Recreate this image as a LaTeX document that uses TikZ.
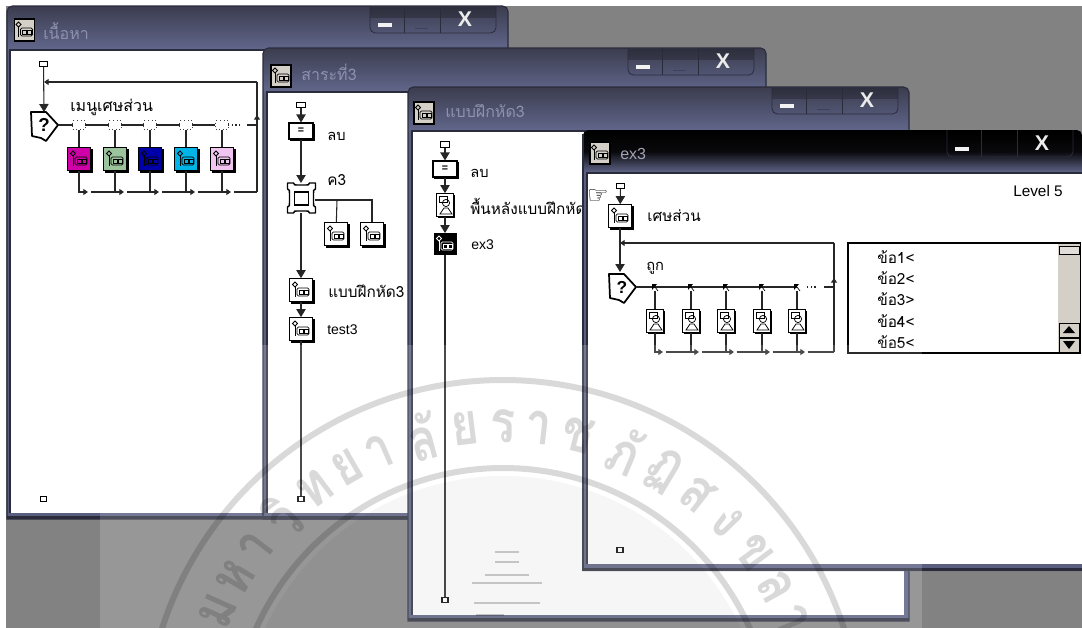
\documentclass[tikz,border=0pt]{standalone}
\usepackage{fontspec}
\setmainfont{Liberation Sans}
\newfontfamily\thaifont[Script=Thai]{Loma}
\newfontfamily\wmfont[Script=Thai,FakeStretch=0.8]{Loma}
\newfontfamily\dejavu{DejaVu Sans}
\usetikzlibrary{arrows.meta,shadows}
\definecolor{bggray}{HTML}{828282}
\definecolor{frameC}{HTML}{5A5F80}
\definecolor{frameD}{HTML}{2A2C3C}
\definecolor{titleT}{HTML}{3B3C4E}
\definecolor{titleB}{HTML}{62678C}
\definecolor{titleTxt}{HTML}{8F92AC}
\definecolor{magI}{HTML}{D000A8}
\definecolor{greenI}{HTML}{9CC49C}
\definecolor{navyI}{HTML}{0000AA}
\definecolor{cyanI}{HTML}{00B4E8}
\definecolor{pinkI}{HTML}{F2C4F0}
\definecolor{ctlC}{HTML}{D4D0C8}
\tikzset{
  x=0.75pt,y=-0.75pt,
  lbl/.style={anchor=west,inner sep=0,font=\thaifont\fontsize{11}{12}\selectfont,text=black},
  ttl/.style={anchor=west,inner sep=0,font=\thaifont\fontsize{12}{14}\selectfont,text=titleTxt},
  ln/.style={draw=black!85,line width=0.8pt},
  arrD/.style={ln,-{Triangle[length=6pt,width=7pt]}},
  arrS/.style={ln,-{Triangle[length=3.5pt,width=4.5pt]}},
  startbox/.style={draw=black,line width=0.8pt,fill=white,minimum width=6.5pt,minimum height=4pt,inner sep=0},
  endbox/.style={draw=black,line width=0.9pt,fill=white,minimum width=4.5pt,minimum height=3.5pt,inner sep=0},
  iconbox/.style={draw=black,line width=0.8pt,fill=white,inner sep=0,minimum width=#1,minimum height=#1,
     copy shadow={shadow xshift=1.4pt,shadow yshift=-1.4pt,fill=black,draw=black}},
  iconbox/.default=17pt,
  dispbox/.style={draw=black,line width=0.8pt,fill=white,inner sep=0,minimum width=12.5pt,minimum height=17pt,
     copy shadow={shadow xshift=1.2pt,shadow yshift=-1.2pt,fill=black,draw=black}},
  calcbox/.style={draw=black,line width=0.8pt,fill=white,inner sep=0,minimum width=18pt,minimum height=12pt,font=\bfseries\fontsize{8}{8}\selectfont,
     copy shadow={shadow xshift=1.2pt,shadow yshift=-1.2pt,fill=black,draw=black}},
  tinybox/.style={draw=black!75,dotted,line width=0.7pt,fill=white,minimum width=9.5pt,minimum height=6.5pt,inner sep=0},
  ghost/.style={inner sep=0,minimum width=#1,minimum height=22pt},
  ticon/.style={draw=black,line width=0.8pt,fill=ctlC,inner sep=0,minimum width=15pt,minimum height=16.5pt},
}
\newcommand{\mapglyph}[2]{\begin{scope}[shift={(#1)},draw=#2,line width=0.55pt]
  \draw (-6,-8)--(-3.5,-5.5)--(-6,-3)--(-8.5,-5.5)--cycle;
  \draw (-6,-3)--(-6,7);
  \draw[rounded corners=1pt] (-4,-2) rectangle (8,6);
  \draw (-2,0) rectangle (2,4); \draw (3,0) rectangle (7,4);
  \end{scope}}
\newcommand{\dispglyph}[1]{\begin{scope}[shift={(#1)},draw=black,line width=0.55pt]
  \draw (-6,-9) rectangle (2,-3);
  \draw (1,-2) circle (3.6);
  \draw (-5,9)--(-1,3)--(3,3)--(7,9)--cycle;
  \end{scope}}
\newcommand{\decpoly}[1]{\begin{scope}[shift={(#1)}]
  \draw[black,line width=1.3pt,line join=round] (-13,-13)--(2,-13)--(14,0)--(2,16)--(-3,13)--(-12,11)--cycle;
  \end{scope}}
\newcommand{\frameglyph}[1]{\begin{scope}[shift={(#1)}]
  \draw[black,line width=1.1pt,fill=white,line join=round] (-14,-15) -- (-8,-15) .. controls (-7,-13) .. (-5,-13) -- (5,-13) .. controls (7,-13) .. (8,-15) -- (14,-15)
     -- (14,-9) .. controls (12,-8) .. (12,-5) -- (12,5) .. controls (12,8) .. (14,9) -- (14,15)
     -- (8,15) .. controls (7,13) .. (5,13) -- (-5,13) .. controls (-7,13) .. (-8,15) -- (-14,15)
     -- (-14,9) .. controls (-12,8) .. (-12,5) -- (-12,-5) .. controls (-12,-8) .. (-14,-9) -- cycle;
  \draw[black,line width=1pt] (-7,-6) rectangle (7,7);
  \end{scope}}
\newcommand{\winbody}[8]{%
  \fill[frameC] (#1,#4) [rounded corners=4pt] -- (#1,#2) -- (#3,#2) [sharp corners] -- (#3,#4) -- cycle;
  \shade[top color=titleT,bottom color=titleB] (#1,#5) [rounded corners=4pt] -- (#1,#2) -- (#3,#2) [sharp corners] -- (#3,#5) -- cycle;
  \draw[frameD,line width=0.8pt] (#1,#4) [rounded corners=4pt] -- (#1,#2) -- (#3,#2) [sharp corners] -- (#3,#4) -- cycle;
  \fill[frameD] (#1,#4-3) rectangle (#3,#4);
  \fill[white] (#6,#5) rectangle (#7,#8);
  \draw[frameD,line width=0.8pt] (#6,#8) -- (#6,#5) -- (#7,#5);
}
\newcommand{\winbtns}[2]{\begin{scope}[shift={(#1,#2)}]
  \fill[black,opacity=.22] (0,1) rectangle (126,12);
  \draw[frameD,line width=0.6pt,rounded corners=4pt] (0,0)--(0,27)--(126,27)--(126,0);
  \draw[frameD,line width=0.6pt] (34,0)--(34,27) (70,0)--(70,27);
  \fill[white!95!black] (8,17) rectangle (22,21);
  \draw[black,opacity=.2,line width=0.5pt] (45,22)--(58,22);
  \node[text=white!92!black,inner sep=0,font=\bfseries\fontsize{16}{16}\selectfont] at (95,13) {X};
  \end{scope}}
\begin{document}
\begin{tikzpicture}
\useasboundingbox (0,0) rectangle (1082,628);
\fill[white] (0,0) rectangle (1082,628);
\fill[bggray] (6,6) rectangle (1082,628);

%% ---------- window 1
\winbody{7}{6}{508}{519}{50}{10}{264}{513}
\winbtns{370}{6}
\node[ticon] (t1) at (24.5,30) {}; \mapglyph{t1}{black}
\node[ttl] (t1t) at (43,31) {เนื้อหา};
\node[startbox] (s1) at (43.5,64) {};
\node[ghost=20pt] (d1) at (44,125) {\bfseries\fontsize{14}{14}\selectfont ?};
\decpoly{d1}
\coordinate (lp1) at (44,82);
\coordinate (rt1) at (257,82);
\coordinate (rb1) at (257,192);
\coordinate (ru1) at (257,125);
\draw[arrD] (s1) -- (44,112);
\draw[arrS] (rt1) -- (lp1);
\draw[ln] (rb1) -- (rt1);
\node[lbl,font=\thaifont\fontsize{12}{12}\selectfont] (l1) at (70,107) {เมนูเศษส่วน};
\draw[ln] (d1.east) -- (215,125);
\draw[ln,dotted] (228,125) -- (242,125);
\draw[arrS] (247,125) -- (ru1) -- (257,115);
\foreach \i/\x/\c in {1/79/magI,2/115/greenI,3/150/navyI,4/186/cyanI,5/222/pinkI}{
  \node[tinybox] (q\i) at (\x,125) {};
  \node[iconbox,fill=\c] (m\i) at (\x,159) {};
  \coordinate (b\i) at (\x,192);
  \draw[ln] (q\i) -- (m\i);
  \mapglyph{m\i}{black}
  \draw[arrS] (m\i.south) -- (b\i) -- ++(9,0);
}
\foreach \a/\b in {1/2,2/3,3/4,4/5}{ \draw[ln] ([xshift=9pt]b\a) -- (b\b); }
\draw[ln] ([xshift=9pt]b5) -- (rb1);
\node[endbox] (e1) at (43.5,499) {};

%% ---------- window 2
\winbody{263}{48}{766}{519}{92}{267}{766}{513}
\winbtns{628}{48}
\node[ticon] (t2) at (281,76) {}; \mapglyph{t2}{black}
\node[ttl] (t2t) at (301,72) {สาระที่3};
\node[startbox] (s2) at (301,105) {};
\node[calcbox] (c2) at (301,131) {=};
\node[lbl] (l2a) at (327,136) {ลบ};
\frameglyph{301.5,198}
\node[ghost=20pt] (f2) at (301.5,198) {};
\node[lbl,font=\thaifont\fontsize{11.5}{12}\selectfont] (l2b) at (327,180) {ค3};
\node[iconbox] (g1) at (336,234) {}; \mapglyph{g1}{black}
\node[iconbox] (g2) at (372,234) {}; \mapglyph{g2}{black}
\node[iconbox] (m2a) at (301,290) {}; \mapglyph{m2a}{black}
\node[lbl,font=\thaifont\fontsize{11.5}{12}\selectfont] (l2c) at (328,291) {แบบฝึกหัด3};
\node[iconbox] (m2b) at (301,329) {}; \mapglyph{m2b}{black}
\node[lbl,font=\fontsize{10.5}{12}\selectfont] (l2d) at (327,330) {test3};
\node[endbox] (e2) at (301,499) {};
\coordinate (j2) at (337,200);
\coordinate (k2) at (372,200);
\draw[arrD] (s2) -- (c2);
\draw[arrD] (c2) -- (301,183);
\draw[ln] (315,200) -- (k2) -- (g2);
\draw[ln] (j2) -- (g1);
\draw[arrD] (301,213) -- (m2a);
\draw[arrD] (m2a) -- (m2b);
\draw[ln] (m2b) -- (e2);

%% ---------- window 3
\winbody{408}{87}{909}{621}{131}{412}{904}{615}
\winbtns{772}{87}
\node[ticon] (t3) at (424,113) {}; \mapglyph{t3}{black}
\node[ttl] (t3t) at (445,111) {แบบฝึกหัด3};
\node[startbox] (s3) at (445,144.5) {};
\node[calcbox] (c3) at (445,169) {=};
\node[lbl] (l3a) at (470,173) {ลบ};
\node[dispbox] (v3) at (445,205) {}; \dispglyph{v3}
\node[lbl,font=\thaifont\fontsize{11.5}{12}\selectfont] (l3b) at (470,206) {พื้นหลังแบบฝึกหัด};
\node[draw=black,fill=black,inner sep=0,minimum width=16.5pt,minimum height=16pt] (m3) at (445,244) {}; \mapglyph{m3}{white}
\node[lbl,font=\fontsize{10.5}{12}\selectfont] (l3c) at (471,245) {ex3};
\node[endbox] (e3) at (445,600) {};
\draw[arrD] (s3) -- (c3);
\draw[arrD] (c3) -- (v3);
\draw[arrD] (v3) -- (m3);
\draw[ln] (m3) -- (e3);

%% ---------- window 4
\fill[frameC] (583,571) [rounded corners=4pt] -- (583,130) -- (1082,130) [sharp corners] -- (1082,571) -- cycle;
\shade[top color=black,bottom color=titleB,middle color=black!85!titleT] (583,173) [rounded corners=4pt] -- (583,130) -- (1082,130) [sharp corners] -- (1082,173) -- cycle;
\fill[frameD] (583,568) rectangle (1082,571);
\fill[white] (587,173) rectangle (1082,564);
\draw[frameD,line width=0.8pt] (587,564) -- (587,173) -- (1082,173);
\draw[frameD,line width=0.8pt] (583,571) -- (583,134);
\winbtns{947}{130}
\node[ticon] (t4) at (600,153) {}; \mapglyph{t4}{black}
\node[ttl,text=black!15!titleTxt!70!white,font=\fontsize{12}{14}\selectfont] (t4t) at (620,154) {ex3};
\node[inner sep=0,font=\dejavu\bfseries\fontsize{18}{18}\selectfont] (h4) at (598,197) {☞};
\node[startbox] (s4) at (620.5,186) {};
\node[iconbox] (m4) at (620,216) {}; \mapglyph{m4}{black}
\node[lbl,font=\thaifont\fontsize{11.5}{12}\selectfont] (l4a) at (647,216) {เศษส่วน};
\node[lbl,font=\fontsize{11.5}{12}\selectfont] (l4l) at (1013,191) {Level 5};
\node[ghost=20pt] (d4) at (622,287) {\bfseries\fontsize{13}{13}\selectfont ?};
\decpoly{d4}
\node[lbl] (l4b) at (646,268) {ถูก};
\coordinate (lp4) at (620,243);
\coordinate (rt4) at (834,243);
\coordinate (rb4) at (834,352);
\coordinate (ru4) at (834,287);
\draw[arrD] (s4) -- (m4);
\draw[arrD] (m4) -- (620,272);
\draw[arrS] (rt4) -- (lp4);
\draw[ln] (rb4) -- (rt4);
\draw[ln] (d4.east) -- (797,287);
\draw[ln,dotted] (807,287) -- (818,287);
\draw[arrS] (824,287) -- (ru4) -- (834,278);
\foreach \i/\x in {1/655,2/691,3/726,4/762,5/797}{
  \node[inner sep=0,minimum size=5pt] (k\i) at (\x,287) {};
  \fill[black] (\x-3,284) -- (\x+2,284) -- (\x-3,290) -- cycle;
  \draw[black,line width=0.5pt] (\x,287) -- (\x+3,291);
  \node[dispbox] (w\i) at (\x,321) {}; \dispglyph{w\i}
  \coordinate (z\i) at (\x,352);
  \draw[ln] (k\i) -- (w\i);
  \draw[arrS] (w\i.south) -- (z\i) -- ++(8,0);
}
\foreach \a/\b in {1/2,2/3,3/4,4/5}{ \draw[ln] ([xshift=8pt]z\a) -- (z\b); }
\draw[ln] ([xshift=8pt]z5) -- (rb4);
\node[endbox] (e4) at (620,550) {};
\draw[black,line width=0.9pt,fill=white] (848,353) -- (848,243) -- (1080,243) -- (1080,353) -- cycle;
\foreach \i/\y/\t in {1/257/<,2/278/<,3/299/>,4/321/<,5/342/<}{
  \node[lbl,font=\thaifont\fontsize{11.5}{12}\selectfont] (r\i) at (877,\y) {ข้อ\i\t};
}
\fill[ctlC] (1058,244) rectangle (1080,352);
\draw[black,line width=0.7pt,fill=ctlC!70!white] (1059,246) rectangle (1079,254);
\draw[black,line width=0.7pt,fill=ctlC] (1059,323) rectangle (1079,337);
\draw[black,line width=0.7pt,fill=ctlC] (1059,338) rectangle (1079,352);
\fill[black] (1069,326) -- (1075,333) -- (1063,333) -- cycle;
\fill[black] (1063,341) -- (1075,341) -- (1069,349) -- cycle;

%% ---------- watermark
\begin{scope}
\clip (0,0) rectangle (1082,628);
\fill[white,opacity=.17] (100,345) rectangle (922,628);
\fill[black,opacity=.035] (503,738) circle (262);
\draw[black,opacity=.15,line width=4.5pt] (503,738) circle (358);
\draw[black,opacity=.15,line width=4.5pt] (503,738) circle (270);
\foreach \a/\t in {156/ม,149/ห,142.5/า,135/วิ,127/ท,120/ย,113.5/า,105/ลั,97/ย,90/ร,83.5/า,76/ช,67/ภั,59/ฏ,51.5/ส,44/ง,36.5/ข,29/ล,22.5/า}{
  \pgfmathsetmacro{\px}{503+312*cos(\a)}
  \pgfmathsetmacro{\py}{738-312*sin(\a)}
  \pgfmathsetmacro{\rt}{\a-90}
  \node[rotate=\rt,text=black,text opacity=.15,inner sep=0,font=\wmfont\bfseries\fontsize{44}{44}\selectfont] (wm\a) at (\px,\py) {\t};
}
\foreach \y/\h in {552/12,562/12,575/22,583/35,603/33}{
  \draw[black,opacity=.2,line width=1.5pt] (507-\h,\y) -- (507+\h,\y);
}
\draw[black,opacity=.2,line width=1.5pt] (476,615) -- (504,615);
\end{scope}
\end{tikzpicture}
\end{document}
